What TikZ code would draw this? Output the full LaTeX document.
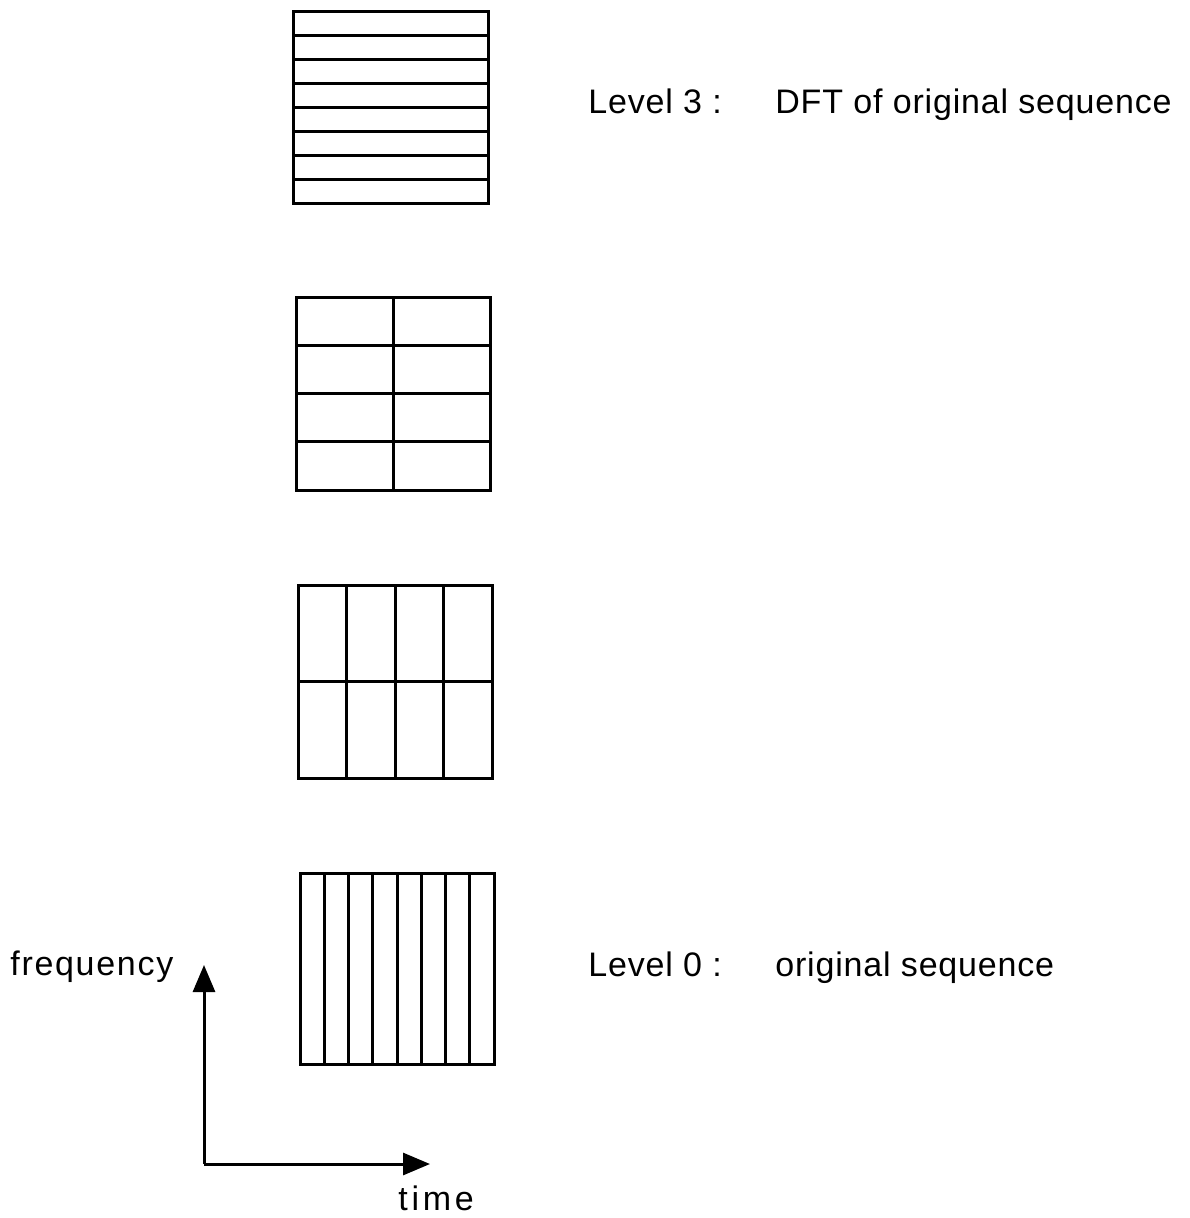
\documentclass[tikz,border=0pt]{standalone}
\usepackage{fontspec}
\setmainfont{Liberation Sans}
\newfontfamily\lvlfont[LetterSpace=2.4]{Liberation Sans}
\newfontfamily\freqfont[LetterSpace=5]{Liberation Sans}
\newfontfamily\timefont[LetterSpace=11]{Liberation Sans}
\usetikzlibrary{arrows.meta}
\begin{document}
\begin{tikzpicture}[x=0.5pt,y=-0.5pt,
  gridline/.style={line width=1.5pt, line join=miter},
  axis/.style={line width=1.5pt, -{Triangle[length=13.5pt,width=11pt]}},
  lbl/.style={anchor=base west, inner sep=0pt, font=\fontsize{17}{20}\selectfont}]
\useasboundingbox (0,0) rectangle (1189,1218);
% Level 3: 8 horizontal strips
\draw[gridline] (293,12) rectangle (488,204);
\foreach \i in {1,...,7} \draw[gridline] (293,{12+\i*24}) -- (488,{12+\i*24});
% Level 2: 2 columns, 4 rows
\draw[gridline] (296,298) rectangle (490,490);
\draw[gridline] (393,298) -- (393,490);
\foreach \i in {1,2,3} \draw[gridline] (296,{298+\i*48}) -- (490,{298+\i*48});
% Level 1: 4 columns, 2 rows
\draw[gridline] (298,585) rectangle (492,778);
\foreach \i in {1,2,3} \draw[gridline] ({298+\i*48.5},585) -- ({298+\i*48.5},778);
\draw[gridline] (298,681.5) -- (492,681.5);
% Level 0: 8 columns
\draw[gridline] (300,873) rectangle (494,1064);
\foreach \i in {1,...,7} \draw[gridline] ({300+\i*24.25},873) -- ({300+\i*24.25},1064);
% labels
\node[lbl] (l3) at (588,114) {\lvlfont\makebox[93.5pt][l]{Level 3 :}DFT of original sequence};
\node[lbl] (l0) at (588,976) {\lvlfont\makebox[93.5pt][l]{Level 0 :}original sequence};
\node[lbl] (freq) at (10,975) {\freqfont frequency};
\node[lbl] (time) at (398,1210) {\timefont time};
% axes
\coordinate (o) at (204,1164);
\coordinate (ftip) at (204,965);
\coordinate (ttip) at (430,1164);
\draw[axis] (o) -- (ftip);
\draw[axis] (o) -- (ttip);
\end{tikzpicture}
\end{document}
